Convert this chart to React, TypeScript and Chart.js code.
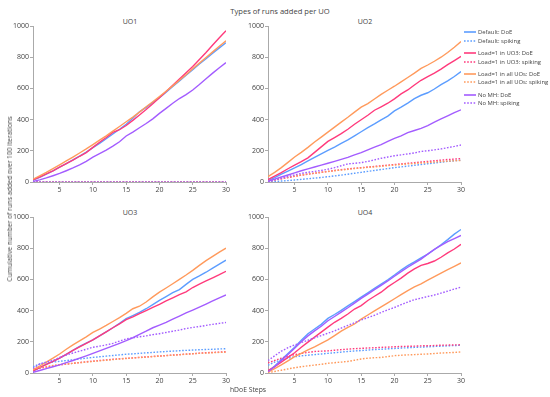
import React, { useEffect, useRef } from "react";
import { Chart, registerables } from "chart.js";

Chart.register(...registerables);

const steps = [1,2,3,4,5,6,7,8,9,10,11,12,13,14,15,16,17,18,19,20,21,22,23,24,25,26,27,28,29,30];
const xTickValues = [5, 10, 15, 20, 25, 30];
const yTickValues = [0, 200, 400, 600, 800, 1000];

const seriesNames = [
  "Default: DoE", "Default: spiking",
  "Load=1 in UO3: DoE", "Load=1 in UO3: spiking",
  "Load=1 in all UOs: DoE", "Load=1 in all UOs: spiking",
  "No MH: DoE", "No MH: spiking",
];
const seriesColors = ["#5c9dff", "#5c9dff", "#ff3a7c", "#ff3a7c", "#ff9a5c", "#ff9a5c", "#a35cff", "#a35cff"];
const seriesDotted = [false, true, false, true, false, true, false, true];
const subplotTitles = ["UO1", "UO2", "UO3", "UO4"];

// UO1
const uo1DefaultDoE = [12,30,50,72,95,118,142,166,192,220,248,277,308,338,370,408,450,478,510,540,576,612,648,684,720,756,790,826,860,893];
const uo1DefaultSpiking = [0,0,0,0,0,0,0,0,0,0,0,0,0,0,0,0,0,0,0,0,0,0,0,0,0,0,0,0,0,0];
const uo1Uo3DoE = [14,32,52,72,95,118,140,165,188,222,255,285,318,335,362,395,430,465,502,540,580,620,660,700,740,785,830,878,925,970];
const uo1Uo3Spiking = [0,0,0,0,0,0,0,0,0,0,0,0,0,0,0,0,0,0,0,0,0,0,0,0,0,0,0,0,0,0];
const uo1AllDoE = [18,40,62,86,110,135,160,186,212,240,268,296,326,356,386,416,448,482,514,548,582,616,652,688,726,762,798,834,870,905];
const uo1AllSpiking = [0,0,0,0,0,0,0,0,0,0,0,0,0,0,0,0,0,0,0,0,0,0,0,0,0,0,0,0,0,0];
const uo1NoMhDoE = [4,14,26,40,55,72,90,110,132,160,182,205,230,258,295,320,348,375,405,440,472,505,535,560,590,625,662,698,732,765];
const uo1NoMhSpiking = [0,0,0,0,0,0,0,0,0,0,0,0,0,0,0,0,0,0,0,0,0,0,0,0,0,0,0,0,0,0];

// UO2
const uo2DefaultDoE = [8,28,50,70,90,112,135,158,180,202,224,248,270,296,322,348,372,398,422,456,480,506,534,556,572,596,624,648,676,708];
const uo2DefaultSpiking = [0,3,6,9,13,17,21,25,29,34,39,44,50,56,62,68,74,80,86,92,97,102,107,112,117,122,127,132,136,140];
const uo2Uo3DoE = [15,38,60,85,108,130,155,190,225,260,285,310,338,370,399,428,460,482,505,533,565,590,622,652,676,698,724,752,778,805];
const uo2Uo3Spiking = [4,12,20,28,36,44,50,56,62,68,74,79,84,88,92,96,100,104,108,112,116,120,124,128,132,136,140,144,147,150];
const uo2AllDoE = [35,62,92,126,160,190,222,256,288,320,352,384,415,448,480,502,532,562,588,614,642,670,698,728,750,774,800,830,864,900];
const uo2AllSpiking = [6,14,22,30,38,45,51,57,62,67,72,77,81,86,90,94,97,101,105,109,112,116,119,122,125,128,131,134,136,138];
const uo2NoMhDoE = [5,18,32,45,58,72,84,96,108,120,132,145,158,174,188,206,224,240,260,280,296,316,330,344,362,384,404,424,444,463];
const uo2NoMhSpiking = [3,14,24,35,45,55,62,68,74,82,92,104,116,120,124,132,142,152,160,168,174,180,186,196,200,206,212,220,228,237];

// UO3
const uo3DefaultDoE = [12,35,55,75,95,120,145,170,192,212,238,264,290,318,348,368,388,412,438,465,490,515,535,568,600,622,646,672,698,723];
const uo3DefaultSpiking = [40,58,66,70,75,80,85,90,95,100,104,108,112,116,120,123,126,129,132,135,138,140,143,145,147,149,151,152,154,156];
const uo3Uo3DoE = [14,35,55,75,95,120,145,168,190,212,238,264,290,315,342,360,380,400,420,440,462,482,502,520,548,570,590,610,630,652];
const uo3Uo3Spiking = [20,30,38,45,52,57,62,67,72,76,80,84,88,91,94,97,100,103,106,109,112,115,118,121,124,127,130,132,134,136];
const uo3AllDoE = [20,45,70,95,122,152,180,206,232,260,282,305,330,355,382,412,428,455,488,518,545,572,600,628,658,690,720,748,775,800];
const uo3AllSpiking = [25,35,42,48,54,58,62,66,70,74,78,82,86,90,93,96,99,102,105,108,111,114,117,120,123,126,128,130,132,134];
const uo3NoMhDoE = [5,16,28,40,52,66,80,95,110,126,142,158,174,190,207,226,248,268,290,307,325,345,365,385,403,422,442,462,482,500];
const uo3NoMhSpiking = [30,58,70,80,100,115,128,140,152,165,172,180,190,205,218,226,232,238,246,252,260,268,275,285,292,298,305,312,318,324];

// UO4
const uo4DefaultDoE = [10,45,85,125,165,210,252,282,312,350,375,402,430,458,486,514,542,570,598,628,660,688,712,738,762,792,822,855,890,920];
const uo4DefaultSpiking = [50,70,85,95,104,110,114,118,122,126,130,134,138,141,144,147,150,152,155,157,160,162,164,166,168,170,172,174,176,178];
const uo4Uo3DoE = [15,40,70,100,130,165,198,230,262,294,325,350,378,410,432,465,492,518,552,580,608,640,668,690,702,718,742,770,795,825];
const uo4Uo3Spiking = [65,80,95,108,118,125,132,138,140,142,146,150,153,156,158,160,162,164,166,168,170,171,172,174,175,176,178,179,180,181];
const uo4AllDoE = [5,28,52,78,105,126,148,168,190,212,240,268,292,314,345,372,398,424,450,476,502,528,552,572,595,618,640,662,684,706];
const uo4AllSpiking = [2,10,18,26,34,40,46,51,56,62,66,70,74,82,90,95,98,100,105,111,114,116,118,120,122,125,128,130,132,135];
const uo4NoMhDoE = [8,40,80,118,158,200,238,270,300,335,362,390,418,448,478,506,534,562,590,620,650,678,704,730,762,792,818,842,862,882];
const uo4NoMhSpiking = [80,110,140,162,180,195,210,225,240,255,270,288,305,322,340,355,370,388,405,420,438,455,470,480,490,500,512,525,538,550];

const subplotSeries = [
  [uo1DefaultDoE, uo1DefaultSpiking, uo1Uo3DoE, uo1Uo3Spiking, uo1AllDoE, uo1AllSpiking, uo1NoMhDoE, uo1NoMhSpiking],
  [uo2DefaultDoE, uo2DefaultSpiking, uo2Uo3DoE, uo2Uo3Spiking, uo2AllDoE, uo2AllSpiking, uo2NoMhDoE, uo2NoMhSpiking],
  [uo3DefaultDoE, uo3DefaultSpiking, uo3Uo3DoE, uo3Uo3Spiking, uo3AllDoE, uo3AllSpiking, uo3NoMhDoE, uo3NoMhSpiking],
  [uo4DefaultDoE, uo4DefaultSpiking, uo4Uo3DoE, uo4Uo3Spiking, uo4AllDoE, uo4AllSpiking, uo4NoMhDoE, uo4NoMhSpiking],
];

const FONT = "'Open Sans', sans-serif";
const TEXT = "#444";
const AXIS = "#aaaaaa";

const panelPos = [
  { left: 0, top: 20 },
  { left: 235, top: 20 },
  { left: 0, top: 211 },
  { left: 235, top: 211 },
];
const CANVAS_W = 234;
const CANVAS_H = 176;
const Y_AXIS_W = 33;
const X_AXIS_H = 14;

function Panel({ idx }: { idx: number }) {
  const ref = useRef<HTMLCanvasElement>(null);
  useEffect(() => {
    if (!ref.current) return;
    const series = subplotSeries[idx];
    const datasets = series.map((vals, i) => ({
      label: seriesNames[i],
      data: vals.map((v, j) => ({ x: steps[j], y: v })),
      borderColor: seriesColors[i],
      backgroundColor: seriesColors[i],
      borderWidth: seriesDotted[i] ? 1.4 : 1.4,
      borderDash: seriesDotted[i] ? [1.6, 1.6] : [],
      pointRadius: 0,
      tension: 0,
      fill: false,
      order: 7 - i,
    }));
    const chart = new Chart(ref.current, {
      type: "line",
      data: { datasets },
      options: {
        animation: false,
        responsive: false,
        maintainAspectRatio: false,
        layout: { padding: { top: 6, right: 8, bottom: 0, left: 0 } },
        plugins: { legend: { display: false }, tooltip: { enabled: false }, title: { display: false } },
        scales: {
          x: {
            type: "linear",
            min: 1,
            max: 30,
            afterBuildTicks: (axis: any) => {
              axis.ticks = xTickValues.map((v) => ({ value: v }));
            },
            afterFit: (axis: any) => {
              axis.height = X_AXIS_H;
            },
            ticks: { color: TEXT, font: { family: FONT, size: 7 }, padding: 1, maxRotation: 0, autoSkip: false, callback: (v: any) => String(v) },
            grid: { display: true, drawOnChartArea: false, drawTicks: true, tickLength: 3, color: AXIS },
            border: { display: true, color: AXIS, width: 1 },
          },
          y: {
            type: "linear",
            min: 0,
            max: 1000,
            afterBuildTicks: (axis: any) => {
              axis.ticks = yTickValues.map((v) => ({ value: v }));
            },
            afterFit: (axis: any) => {
              axis.width = Y_AXIS_W;
            },
            ticks: { color: TEXT, font: { family: FONT, size: 7 }, padding: 1, autoSkip: false, callback: (v: any) => String(v) },
            grid: { display: true, drawOnChartArea: false, drawTicks: true, tickLength: 3, color: AXIS },
            border: { display: true, color: AXIS, width: 1 },
          },
        },
      } as any,
    });
    return () => chart.destroy();
  }, [idx]);
  const p = panelPos[idx];
  return (
    <canvas
      ref={ref}
      width={CANVAS_W}
      height={CANVAS_H}
      style={{ position: "absolute", left: p.left, top: p.top, width: CANVAS_W, height: CANVAS_H, display: "block" }}
    />
  );
}

const subTitlePos = [
  { x: 130, y: 22 },
  { x: 365, y: 22 },
  { x: 130, y: 213 },
  { x: 365, y: 213 },
];
const legendRowsY = [32, 41, 53.3, 62, 73.7, 82.3, 94.7, 103.3];

export default function App() {
  const textBase: React.CSSProperties = {
    position: "absolute",
    fontFamily: FONT,
    color: TEXT,
    whiteSpace: "nowrap",
    lineHeight: "10px",
  };
  return (
    <div style={{ position: "absolute", left: 0, top: 0, width: 550, height: 397, background: "#fff", overflow: "hidden" }}>
      <div style={{ ...textBase, left: 280, top: 6, fontSize: 7.6, transform: "translateX(-50%)" }}>Types of runs added per UO</div>
      {subplotTitles.map((t, i) => (
        <div key={t} style={{ ...textBase, left: subTitlePos[i].x, top: subTitlePos[i].y - 5, fontSize: 7, transform: "translateX(-50%)" }}>{t}</div>
      ))}
      {[0, 1, 2, 3].map((i) => (
        <Panel key={i} idx={i} />
      ))}
      <div style={{ ...textBase, left: 248, top: 385, fontSize: 6.8, transform: "translateX(-50%)" }}>hDoE Steps</div>
      <div
        style={{
          ...textBase,
          left: 10,
          top: 199,
          fontSize: 6.6,
          transform: "translate(-50%, -50%) rotate(-90deg)",
        }}
      >
        Cumulative number of runs added over 100 iterations
      </div>
      {seriesNames.map((n, i) => (
        <div key={n} style={{ ...textBase, left: 464, top: legendRowsY[i] - 5, fontSize: 5.9, height: 10 }}>
          <svg width={13} height={10} style={{ position: "absolute", left: 0, top: 0 }}>
            <line
              x1={0}
              y1={5}
              x2={12}
              y2={5}
              stroke={seriesColors[i]}
              strokeWidth={1.6}
              strokeDasharray={seriesDotted[i] ? "1.6,1.6" : undefined}
            />
          </svg>
          <span style={{ position: "absolute", left: 14, top: 0 }}>{n}</span>
        </div>
      ))}
    </div>
  );
}
